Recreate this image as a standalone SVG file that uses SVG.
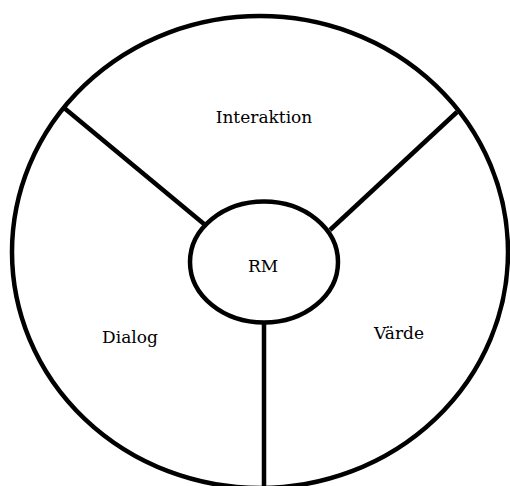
<svg xmlns="http://www.w3.org/2000/svg" width="510" height="486" viewBox="0 0 510 486">
<style>
.s{fill:none;stroke:#000;stroke-width:4.5}
.t{font-family:"DejaVu Serif","Liberation Serif",serif;font-size:17px;fill:#000;text-anchor:middle}
</style>
<rect width="510" height="486" fill="#fff"/>
<g id="outer"><ellipse class="s" cx="260" cy="252" rx="248" ry="236"/></g>
<g id="connectors">
<line class="s" x1="63" y1="107" x2="204" y2="224"/>
<line class="s" x1="457" y1="112" x2="330" y2="230"/>
<line class="s" x1="264" y1="322" x2="264" y2="490"/>
</g>
<g id="rm"><ellipse class="s" cx="264" cy="262" rx="74" ry="60.5" fill="#fff"/><text class="t" x="263" y="272">RM</text></g>
<g id="interaktion"><text class="t" x="264" y="123">Interaktion</text></g>
<g id="dialog"><text class="t" x="130" y="343">Dialog</text></g>
<g id="varde"><text class="t" x="399" y="339">Värde</text></g>
</svg>
